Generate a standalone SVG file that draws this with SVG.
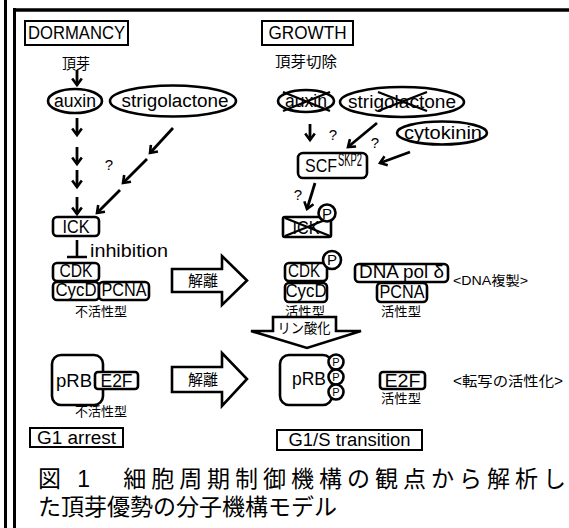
<svg xmlns="http://www.w3.org/2000/svg" width="569" height="528" viewBox="0 0 569 528">
<style>
.frame{fill:none;stroke:#000}
.lbl{fill:#fff;stroke:#000;stroke-width:2}
.box{fill:#fff;stroke:#000;stroke-width:2.6}
.ell{fill:#fff;stroke:#000;stroke-width:2.6}
.blk{fill:#fff;stroke:#000;stroke-width:2.6;stroke-linejoin:miter}
.x{stroke:#000;stroke-width:2.4;fill:none}
.arr{stroke:#000;stroke-width:2.8;fill:none;marker-end:url(#ah)}
.bar{stroke:#000;stroke-width:2.6;fill:none}
.t{font-family:"Liberation Sans",Arial,sans-serif;font-size:18px;fill:#000}
.q{font-family:"Liberation Sans",Arial,sans-serif;font-size:15px;fill:#000}
.p{font-family:"Liberation Sans",Arial,sans-serif;font-size:11px;fill:#000;text-anchor:middle}
.j{font-family:"Liberation Sans","Noto Sans CJK JP",sans-serif;fill:#000}
.m{text-anchor:middle}
</style>
<defs>
<marker id="ah" markerUnits="userSpaceOnUse" viewBox="0 0 12 12" refX="9.5" refY="6" markerWidth="12" markerHeight="12" orient="auto">
<path d="M3,1.2 L9.5,6 L3,10.8" fill="none" stroke="#000" stroke-width="2.6"/>
</marker>
</defs>
<rect x="0" y="0" width="569" height="528" fill="#fff"/>
<g id="frame">
<line class="frame" x1="5.5" y1="0" x2="5.5" y2="528" stroke-width="3"/>
<line class="frame" x1="14.5" y1="8" x2="14.5" y2="528" stroke-width="3"/>
<line class="frame" x1="13" y1="10" x2="569" y2="10" stroke-width="3.5"/>
</g>

<g id="connectors">
<path class="arr" d="M77,70 L77,85"/>
<path class="arr" d="M77,118 L77,135"/>
<path class="arr" d="M77,147 L77,164"/>
<path class="arr" d="M77,170 L77,187"/>
<path class="arr" d="M77,197 L77,214"/>
<path class="arr" d="M173,128 L150,153"/>
<path class="arr" d="M147,159 L123,183"/>
<path class="arr" d="M120,190 L97,213"/>
<path class="bar" d="M77,240 L77,257 M67,257 L87,257"/>
<path class="arr" d="M310,124 L310,140"/>
<path class="arr" d="M377,123 L348,147"/>
<path class="arr" d="M410,152 L380,163"/>
<path class="arr" d="M315,183 L307,209"/>
</g>

<g id="dormancy"><rect class="lbl" x="25" y="21" width="103" height="24"/><text class="t m" x="76.5" y="39" font-size="19" textLength="97" lengthAdjust="spacingAndGlyphs">DORMANCY</text></g>
<g id="growth"><rect class="lbl" x="262" y="21" width="91" height="24"/><text class="t m" x="307.5" y="39" font-size="19" textLength="78" lengthAdjust="spacingAndGlyphs">GROWTH</text></g>
<g id="apical-bud"><text class="j m" x="76" y="69" font-size="15" textLength="28" lengthAdjust="spacingAndGlyphs">頂芽</text></g>
<g id="decapitation"><text class="j" x="275" y="67" font-size="15" textLength="62" lengthAdjust="spacingAndGlyphs">頂芽切除</text></g>

<g id="auxin-l"><ellipse class="ell" cx="75" cy="101" rx="27" ry="12"/><text class="t m" x="75" y="107" textLength="42" lengthAdjust="spacingAndGlyphs">auxin</text></g>
<g id="strigolactone-l"><ellipse class="ell" cx="173" cy="101" rx="63" ry="15.5"/><text class="t m" x="175" y="107" textLength="107" lengthAdjust="spacingAndGlyphs">strigolactone</text></g>
<g id="q-l"><text class="q m" x="109" y="170">?</text></g>

<g id="ick-l"><rect class="box" x="53" y="217" width="46" height="19" rx="4"/><text class="t m" x="76" y="233" textLength="27" lengthAdjust="spacingAndGlyphs">ICK</text></g>
<g id="inhibition"><text class="t" x="90" y="257" textLength="78" lengthAdjust="spacingAndGlyphs">inhibition</text></g>
<g id="cdk-l"><rect class="box" x="53" y="263" width="46" height="18" rx="4"/><text class="t m" x="76" y="277" textLength="33" lengthAdjust="spacingAndGlyphs">CDK</text></g>
<g id="cycd-l"><rect class="box" x="53" y="282" width="46" height="18" rx="4"/><text class="t m" x="76" y="296" textLength="41" lengthAdjust="spacingAndGlyphs">CycD</text></g>
<g id="pcna-l"><rect class="box" x="99" y="282" width="50" height="18" rx="4"/><text class="t m" x="124" y="296" textLength="45" lengthAdjust="spacingAndGlyphs">PCNA</text></g>
<g id="inactive-1"><text class="j m" x="101" y="316" font-size="13" textLength="52" lengthAdjust="spacingAndGlyphs">不活性型</text></g>

<g id="dissociation-1"><path class="blk" d="M172,269 L222,269 L222,256 L247,280.5 L222,305 L222,292 L172,292 Z"/><text class="j m" x="203" y="286" font-size="15" textLength="30" lengthAdjust="spacingAndGlyphs">解離</text></g>

<g id="prb-l"><rect class="box" x="52" y="355" width="51" height="50" rx="9"/><text class="t" x="56" y="387" textLength="36" lengthAdjust="spacingAndGlyphs">pRB</text></g>
<g id="e2f-l"><rect class="box" x="95" y="372" width="43" height="17" rx="3"/><text class="t m" x="116.5" y="387" textLength="32" lengthAdjust="spacingAndGlyphs">E2F</text></g>
<g id="inactive-2"><text class="j m" x="101" y="416" font-size="13" textLength="52" lengthAdjust="spacingAndGlyphs">不活性型</text></g>
<g id="dissociation-2"><path class="blk" d="M172,367 L222,367 L222,353 L247,379 L222,406 L222,392 L172,392 Z"/><text class="j m" x="203" y="385" font-size="15" textLength="30" lengthAdjust="spacingAndGlyphs">解離</text></g>
<g id="g1-arrest"><rect class="lbl" x="30" y="428" width="93" height="19"/><text class="t m" x="76.5" y="444" textLength="79" lengthAdjust="spacingAndGlyphs">G1 arrest</text></g>

<g id="auxin-r"><ellipse class="ell" cx="306" cy="101" rx="28" ry="11"/><text class="t m" x="306" y="107" textLength="42" lengthAdjust="spacingAndGlyphs">auxin</text><path class="x" d="M283,92 L330,111 M283,111 L330,92"/></g>
<g id="strigolactone-r"><ellipse class="ell" cx="402" cy="102" rx="62" ry="15"/><text class="t m" x="402" y="108" textLength="108" lengthAdjust="spacingAndGlyphs">strigolactone</text><path class="x" d="M378,92 L427,111 M378,111 L427,92"/></g>
<g id="q-r1"><text class="q m" x="333" y="140">?</text></g>
<g id="q-r2"><text class="q m" x="375" y="148">?</text></g>
<g id="cytokinin"><ellipse class="ell" cx="442" cy="133" rx="45" ry="11.5"/><text class="t m" x="443" y="139" textLength="78" lengthAdjust="spacingAndGlyphs">cytokinin</text></g>
<g id="scf"><rect class="box" x="298" y="153" width="69" height="25" rx="5"/><text class="t" x="305" y="172" textLength="32" lengthAdjust="spacingAndGlyphs">SCF</text><text class="t" x="338" y="166" font-size="11" textLength="24" lengthAdjust="spacingAndGlyphs">SKP2</text></g>
<g id="q-r3"><text class="q m" x="298" y="200">?</text></g>
<g id="ick-r"><rect class="box" x="283" y="217" width="48" height="20" rx="2"/><text class="t m" x="306" y="234" textLength="27" lengthAdjust="spacingAndGlyphs">ICK</text><path class="x" d="M285,218 L330,236 M285,236 L330,218"/><circle class="box" cx="327" cy="213" r="8.5"/><text class="q m" x="327" y="218.5" font-size="14">P</text></g>

<g id="cdk-r"><rect class="box" x="285" y="263" width="42" height="18" rx="4"/><text class="t m" x="304" y="277" textLength="32" lengthAdjust="spacingAndGlyphs">CDK</text><circle class="box" cx="332" cy="260" r="9"/><text class="q m" x="332" y="265" font-size="14">P</text></g>
<g id="cycd-r"><rect class="box" x="285" y="283" width="42" height="19" rx="4"/><text class="t m" x="306" y="297" textLength="41" lengthAdjust="spacingAndGlyphs">CycD</text></g>
<g id="active-1"><text class="j m" x="305" y="316" font-size="13" textLength="40" lengthAdjust="spacingAndGlyphs">活性型</text></g>
<g id="dnapol"><rect class="box" x="355" y="264" width="93" height="18" rx="4"/><text class="t m" x="401.5" y="278" textLength="85" lengthAdjust="spacingAndGlyphs">DNA pol δ</text></g>
<g id="pcna-r"><rect class="box" x="377" y="283" width="50" height="19" rx="4"/><text class="t m" x="402" y="298" textLength="45" lengthAdjust="spacingAndGlyphs">PCNA</text></g>
<g id="active-2"><text class="j m" x="401" y="316" font-size="13" textLength="40" lengthAdjust="spacingAndGlyphs">活性型</text></g>
<g id="dna-rep"><text class="j" x="453" y="285" font-size="13" textLength="75" lengthAdjust="spacingAndGlyphs">&lt;DNA複製&gt;</text></g>

<g id="phosphorylation"><path class="blk" d="M273,317 L336,317 L336,331 L361,331 L307,348 L251,331 L273,331 Z"/><text class="j m" x="304" y="333" font-size="14" textLength="53" lengthAdjust="spacingAndGlyphs">リン酸化</text></g>

<g id="prb-r"><rect class="box" x="280" y="355" width="52" height="50" rx="9"/><text class="t" x="292" y="385" textLength="34" lengthAdjust="spacingAndGlyphs">pRB</text>
<circle class="box" cx="336" cy="362" r="7.5"/><text class="p" x="336" y="366">P</text>
<circle class="box" cx="336" cy="377" r="7.5"/><text class="p" x="336" y="381">P</text>
<circle class="box" cx="336" cy="392" r="7.5"/><text class="p" x="336" y="396">P</text></g>
<g id="e2f-r"><rect class="box" x="380" y="372" width="45" height="17" rx="3"/><text class="t m" x="402.5" y="387" textLength="36" lengthAdjust="spacingAndGlyphs">E2F</text></g>
<g id="active-3"><text class="j m" x="401" y="403" font-size="13" textLength="40" lengthAdjust="spacingAndGlyphs">活性型</text></g>
<g id="transcription"><text class="j" x="453" y="386" font-size="14" textLength="110" lengthAdjust="spacingAndGlyphs">&lt;転写の活性化&gt;</text></g>
<g id="g1s"><rect class="lbl" x="277" y="430" width="145" height="20"/><text class="t m" x="349.5" y="446" textLength="122" lengthAdjust="spacingAndGlyphs">G1/S transition</text></g>

<g id="caption">
<text class="j" x="38" y="487" font-size="23" textLength="528" lengthAdjust="spacing">図 1　細胞周期制御機構の観点から解析し</text>
<text class="j" x="38" y="515" font-size="23">た頂芽優勢の分子機構モデル</text>
</g>
</svg>
